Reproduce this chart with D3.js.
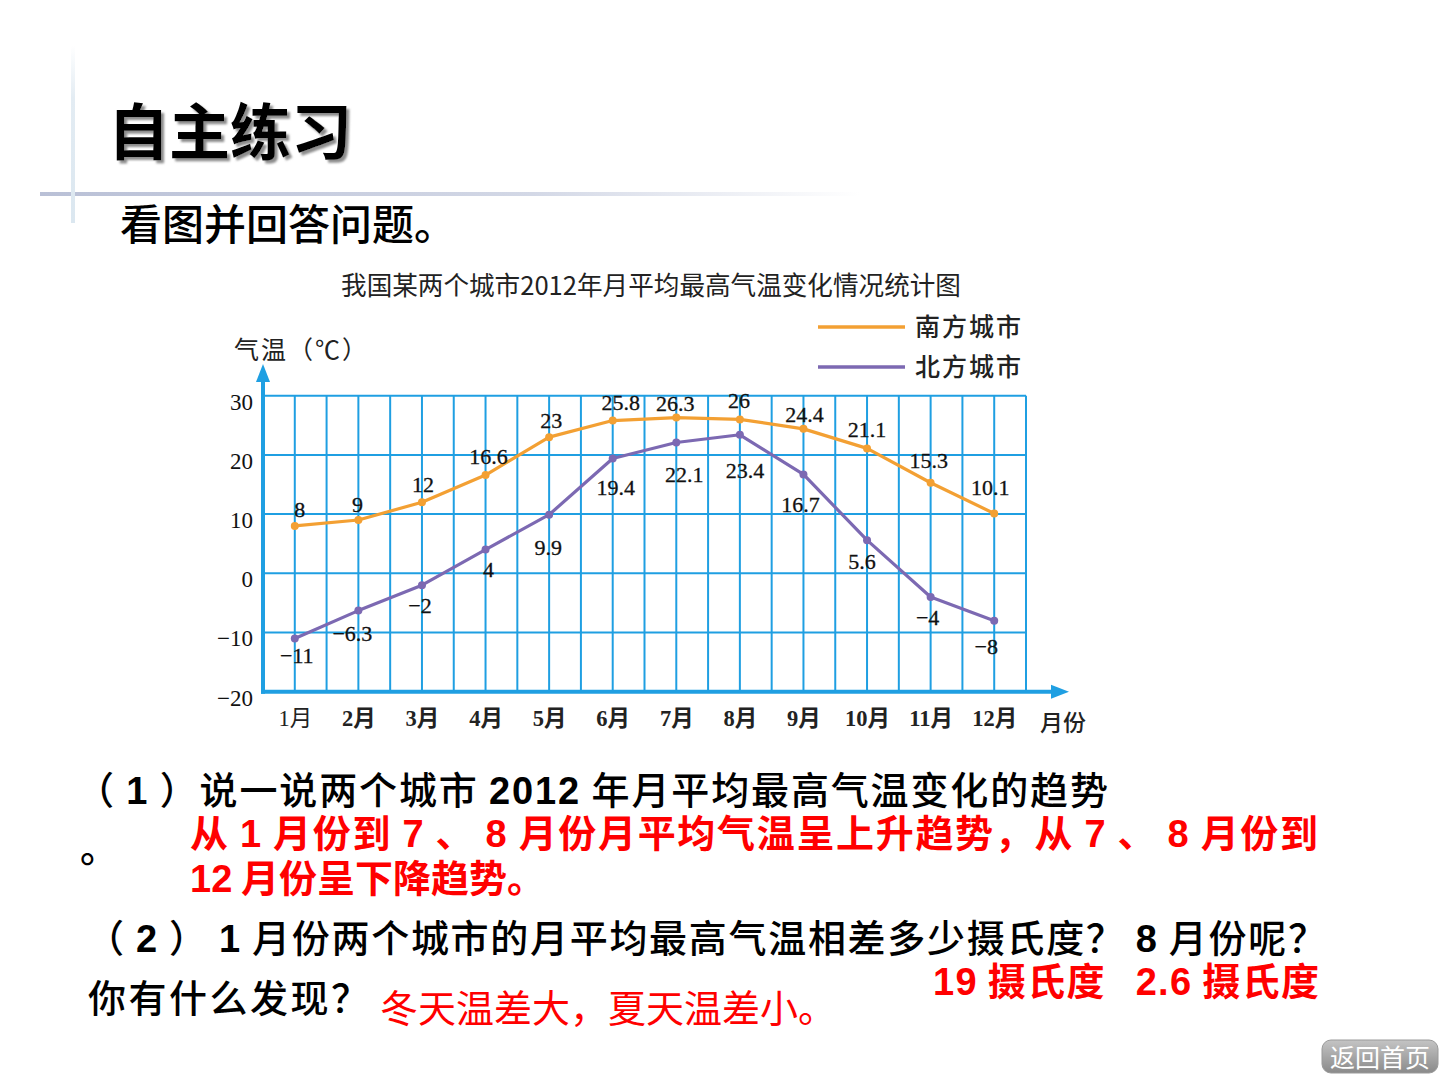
<!DOCTYPE html>
<html><head><meta charset="utf-8">
<script src="https://cdn.jsdelivr.net/npm/d3@7"></script>
<style>body{margin:0;background:#fff;overflow:hidden}</style>
</head><body>
<svg id="c" width="1440" height="1080"></svg>
<script>
// ---- data ----
const months = ["1月","2月","3月","4月","5月","6月","7月","8月","9月","10月","11月","12月"];
const monthNums = [1,2,3,4,5,6,7,8,9,10,11,12];
const southCity = [8,9,12,16.6,23,25.8,26.3,26,24.4,21.1,15.3,10.1];
const northCity = [-11,-6.3,-2,4,9.9,19.4,22.1,23.4,16.7,5.6,-4,-8];
const yTicks = [-20,-10,0,10,20,30];
const seriesNames = ["南方城市","北方城市"];
const chartTitle = "我国某两个城市2012年月平均最高气温变化情况统计图";
// ---- layout (label nudges, px) ----
const southNudge = [[5,-9],[-1,-8],[1,-10],[3,-11],[2,-9],[8,-11],[-1,-7],[-1,-11],[1,-7],[0,-11],[-2,-15],[-4,-19]];
const northNudge = [[2,25],[-6,30],[-2,28],[3,27],[-1,40],[3,37],[8,40],[5,43],[-3,38],[-5,29],[-3,28],[-8,33]];

const svg = d3.select("#c");
const CJK = "'Noto Sans CJK SC','Noto Sans',sans-serif";
const SERIF = "'Liberation Serif','Noto Sans CJK SC',serif";
const GRID = "#1f9fe2", ORANGE = "#f3a033", PURPLE = "#7c69b2";

// decorations
const defs = svg.append("defs");
const lg = defs.append("linearGradient").attr("id","hl").attr("x1","0").attr("x2","1");
lg.append("stop").attr("offset","0").attr("stop-color","#b9c0d6");
lg.append("stop").attr("offset","0.6").attr("stop-color","#d3d8e6");
lg.append("stop").attr("offset","1").attr("stop-color","#ffffff");
svg.append("rect").attr("x",40).attr("y",192).attr("width",820).attr("height",4).attr("fill","url(#hl)");
const vg = defs.append("linearGradient").attr("id","vl").attr("x1","0").attr("x2","0").attr("y1","0").attr("y2","1");
vg.append("stop").attr("offset","0").attr("stop-color","#ffffff");
vg.append("stop").attr("offset","0.3").attr("stop-color","#e3ecf3");
vg.append("stop").attr("offset","1").attr("stop-color","#dbe7f0");
svg.append("rect").attr("x",71).attr("y",45).attr("width",4).attr("height",178).attr("fill","url(#vl)");
const sh = defs.append("filter").attr("id","shadow").attr("x","-10%").attr("y","-10%").attr("width","130%").attr("height","130%");
sh.append("feDropShadow").attr("dx",3).attr("dy",3).attr("stdDeviation",1.2).attr("flood-color","#808080").attr("flood-opacity",0.9);

// title
svg.append("text").attr("x",108).attr("y",155).text("自主练习").attr("filter","url(#shadow)")
  .attr("font-family",CJK).attr("font-weight",700).attr("font-size",61).attr("fill","#000");
svg.append("text").attr("x",120).attr("y",240).text("看图并回答问题。")
  .attr("font-family",CJK).attr("font-weight",500).attr("font-size",42).attr("fill","#000");

// ---- chart ----
const x = d3.scaleLinear().domain([0.5,12.5]).range([263,1026]);
const y = d3.scaleLinear().domain([-20,30]).range([691.7,395.7]);

svg.append("text").attr("x",651).attr("y",295).attr("text-anchor","middle").text(chartTitle)
  .attr("font-family",CJK).attr("font-size",25.6).attr("fill","#222");

// grid
const g = svg.append("g");
g.selectAll(".vx").data(d3.range(1,25).map(i=>0.5+i*0.5)).join("line")
  .attr("x1",d=>x(d)).attr("x2",d=>x(d)).attr("y1",y(30)).attr("y2",y(-20))
  .attr("stroke",GRID).attr("stroke-width",2);
g.selectAll(".hy").data(yTicks.slice(1)).join("line")
  .attr("x1",x(0.5)).attr("x2",x(12.5)).attr("y1",d=>y(d)).attr("y2",d=>y(d))
  .attr("stroke",GRID).attr("stroke-width",2);

// axes with arrows
g.append("line").attr("x1",x(0.5)).attr("x2",x(0.5)).attr("y1",y(-20)+2).attr("y2",378)
  .attr("stroke",GRID).attr("stroke-width",4);
g.append("path").attr("d",`M${x(0.5)},364 L${x(0.5)-7},382 L${x(0.5)+7},382 Z`).attr("fill",GRID);
g.append("line").attr("x1",x(0.5)-2).attr("x2",1056).attr("y1",y(-20)).attr("y2",y(-20))
  .attr("stroke",GRID).attr("stroke-width",4);
g.append("path").attr("d",`M1069,${y(-20)} L1051,${y(-20)-7} L1051,${y(-20)+7} Z`).attr("fill",GRID);

// y axis labels
const yAxis = d3.axisLeft(y).tickValues(yTicks).tickSize(0).tickPadding(10);
const ya = svg.append("g").attr("transform",`translate(${x(0.5)},6)`).call(yAxis);
ya.select(".domain").remove();
ya.selectAll("text").attr("font-family",SERIF).attr("font-size",23).attr("fill","#111");

// x labels
const xAxis = d3.axisBottom(x).tickValues(monthNums).tickFormat((d,i)=>months[i]).tickSize(0).tickPadding(0);
const xa = svg.append("g").attr("transform",`translate(0,${y(-20)+18})`).call(xAxis);
xa.select(".domain").remove();
xa.selectAll("text").attr("dy","0.71em").attr("font-family",SERIF).attr("font-size",22.5)
  .attr("font-weight",(d,i)=>i===0?400:700).attr("fill","#222");

svg.append("text").attr("x",1040).attr("y",731).text("月份")
  .attr("font-family",CJK).attr("font-weight",500).attr("font-size",23).attr("fill","#222");
svg.append("text").attr("x",234).attr("y",359).text("气温（℃）").attr("letter-spacing",2)
  .attr("font-family",CJK).attr("font-size",25).attr("fill","#222");

// legend
const legend = [[seriesNames[0],ORANGE,327],[seriesNames[1],PURPLE,367]];
legend.forEach(([n,c,ly])=>{
  svg.append("line").attr("x1",818).attr("x2",905).attr("y1",ly).attr("y2",ly).attr("stroke",c).attr("stroke-width",3.5);
  svg.append("text").attr("x",915).attr("y",ly+9).text(n).attr("font-family",CJK).attr("font-weight",500)
    .attr("font-size",25).attr("fill","#222").attr("letter-spacing",2);
});

// series
const fmt = v => v<0 ? "\u2212"+Math.abs(v) : String(v);
function drawSeries(vals, color, nudge){
  const pts = vals.map((v,i)=>[x(monthNums[i]), y(v)]);
  svg.append("path").attr("d",d3.line()(pts)).attr("fill","none").attr("stroke",color)
    .attr("stroke-width",3.2).attr("stroke-linejoin","round");
  svg.append("g").selectAll("circle").data(pts).join("circle")
    .attr("cx",d=>d[0]).attr("cy",d=>d[1]).attr("r",4).attr("fill",color);
  svg.append("g").selectAll("text").data(vals).join("text")
    .attr("x",(d,i)=>x(monthNums[i])+nudge[i][0]).attr("y",(d,i)=>y(d)+nudge[i][1])
    .attr("text-anchor","middle").text(fmt)
    .attr("font-family",SERIF).attr("font-size",22).attr("fill","#111")
    .attr("stroke","#111").attr("stroke-width",0.3);
}
drawSeries(southCity, ORANGE, southNudge);
drawSeries(northCity, PURPLE, northNudge);

// ---- questions ----
const AR = "'Liberation Sans',Arial,sans-serif";
function line(xp, yp, parts, color, weight, len){
  const t = svg.append("text").attr("x",xp).attr("y",yp).attr("fill",color)
    .attr("font-family",CJK).attr("font-size",38).attr("font-weight",weight)
    .style("white-space","pre");
  parts.forEach(p=>{
    const s = t.append("tspan").text(p[0]);
    if(p[1]) s.attr("font-family",AR).attr("font-weight",700);
  });
  if(len) t.attr("textLength",len).attr("lengthAdjust","spacing");
  return t;
}
line(76,804,[["（ "],["1",1],[" ）说一说两个城市 "],["2012",1],[" 年月平均最高气温变化的趋势"]],"#000",500,1032);
line(80,862,[["。"]],"#000",500);
line(190,847,[["从 "],["1",1],[" 月份到 "],["7",1],[" 、 "],["8",1],[" 月份月平均气温呈上升趋势，从 "],["7",1],[" 、 "],["8",1],[" 月份到"]],"#f00",700,1128);
line(190,892,[["12",1],[" 月份呈下降趋势。"]],"#f00",700);
line(86,952,[["（ "],["2",1],[" ） "],["1",1],[" 月份两个城市的月平均最高气温相差多少摄氏度？ "],["8",1],[" 月份呢？"]],"#000",500,1240);
line(933,995,[["19",1],[" 摄氏度   "],["2.6",1],[" 摄氏度"]],"#f00",700,386);
line(88,1012,[["你有什么发现？"]],"#000",500).attr("letter-spacing",2.5);
line(380,1022,[["冬天温差大，夏天温差小。"]],"#f00",400);

// button
const bg = defs.append("linearGradient").attr("id","btn").attr("x1","0").attr("x2","0").attr("y1","0").attr("y2","1");
bg.append("stop").attr("offset","0").attr("stop-color","#c4c4c4");
bg.append("stop").attr("offset","1").attr("stop-color","#8a8a8a");
svg.append("rect").attr("x",1322).attr("y",1040).attr("width",116).attr("height",33).attr("rx",9)
  .attr("fill","url(#btn)").attr("stroke","#9a9a9a");
svg.append("text").attr("x",1380).attr("y",1067).attr("text-anchor","middle").text("返回首页")
  .attr("font-family",CJK).attr("font-size",25).attr("fill","#fff");
</script>
</body></html>
